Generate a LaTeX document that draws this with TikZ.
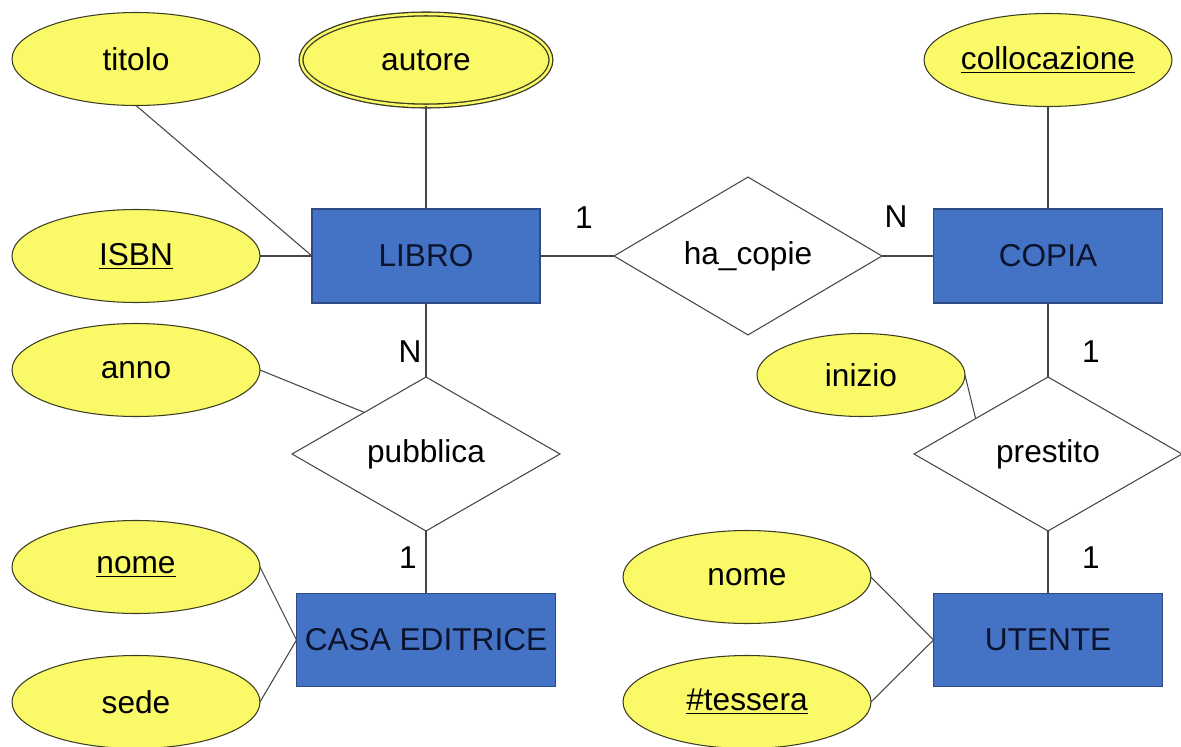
\documentclass[tikz,border=0pt]{standalone}
\usepackage{fontspec}
\setmainfont{Liberation Sans}
\usetikzlibrary{shapes.geometric,calc}

\definecolor{attrfill}{RGB}{250,250,105}
\definecolor{attrline}{RGB}{60,60,35}
\definecolor{entfill}{RGB}{68,114,196}
\definecolor{entline}{RGB}{45,75,135}
\definecolor{enttext}{RGB}{12,20,45}
\definecolor{linkgray}{RGB}{70,70,70}

\tikzset{
  er text/.style={font=\fontsize{18}{22}\selectfont},
  attr/.style={er text, ellipse, draw=attrline, fill=attrfill, line width=0.6pt,
    minimum width=4.96cm, minimum height=1.86cm, inner sep=0pt, outer sep=0pt},
  multiattr/.style={attr, double=attrfill, double distance=1.4pt, line width=0.75pt},
  ent/.style={er text, rectangle, draw=entline, fill=entfill, line width=0.6pt,
    text=enttext, inner sep=0pt, outer sep=0pt},
  rel/.style={er text, diamond, draw=linkgray, fill=white, line width=0.6pt,
    minimum width=5.36cm, minimum height=3.08cm, inner sep=0pt, outer sep=0pt},
  card/.style={er text, inner sep=0pt},
  link/.style={draw=linkgray, line width=0.6pt}
}

\begin{document}
\begin{tikzpicture}[x=0.02cm,y=-0.02cm]
  \useasboundingbox[fill=white] (0,0) rectangle (1181,747);

  % entities
  \node[ent, minimum width=4.56cm, minimum height=1.88cm] (libro) at (426,256) {LIBRO};
  \node[ent, minimum width=4.58cm, minimum height=1.88cm] (copia) at (1048,256) {COPIA};
  \node[ent, minimum width=5.18cm, minimum height=1.86cm] (casa) at (426,640) {CASA EDITRICE};
  \node[ent, minimum width=4.58cm, minimum height=1.86cm] (utente) at (1048,640) {UTENTE};

  % relationships
  \node[rel] (hacopie) at (748,256) {ha\_copie};
  \node[rel] (pubblica) at (426,454) {pubblica};
  \node[rel] (prestito) at (1048,454) {prestito};

  % attributes
  \node[attr] (titolo) at (136,59) {titolo};
  \node[multiattr, minimum width=5.0cm, minimum height=1.84cm] (autore) at (426,60) {autore};
  \node[attr] (isbn) at (136,256) {\underline{ISBN}};
  \node[attr] (collocazione) at (1048,60) {\underline{collocazione}};
  \node[attr] (anno) at (136,370) {anno};
  \node[attr, minimum width=4.16cm, minimum height=1.66cm] (inizio) at (861,375) {inizio};
  \node[attr] (nomeCasa) at (136,567) {\underline{nome}};
  \node[attr] (sede) at (136,702) {sede};
  \node[attr] (nomeUtente) at (747,577) {nome};
  \node[attr] (tessera) at (747,702) {\underline{\#tessera}};

  % cardinalities
  \node[card] (c1) at (584,218) {1};
  \node[card] (c2) at (896,217) {N};
  \node[card] (c3) at (410,352) {N};
  \node[card] (c4) at (408,558) {1};
  \node[card] (c5) at (1091,352) {1};
  \node[card] (c6) at (1091,558) {1};

  % relationship links
  \draw[link] (libro.east) -- (hacopie.west);
  \draw[link] (hacopie.east) -- (copia.west);
  \draw[link] (libro.south) -- (pubblica.north);
  \draw[link] (pubblica.south) -- (casa.north);
  \draw[link] (copia.south) -- (prestito.north);
  \draw[link] (prestito.south) -- (utente.north);

  % attribute links
  \draw[link] (titolo.south) -- (libro.west);
  \draw[link] (autore.south) -- (libro.north);
  \draw[link] (isbn.east) -- (libro.west);
  \draw[link] (collocazione.south) -- (copia.north);
  \draw[link] (anno.east) -- ($(pubblica.west)!0.54!(pubblica.north)$);
  \draw[link] (inizio.east) -- ($(prestito.west)!0.46!(prestito.north)$);
  \draw[link] (nomeCasa.east) -- (casa.west);
  \draw[link] (sede.east) -- (casa.west);
  \draw[link] (nomeUtente.east) -- (utente.west);
  \draw[link] (tessera.east) -- (utente.west);
\end{tikzpicture}
\end{document}
